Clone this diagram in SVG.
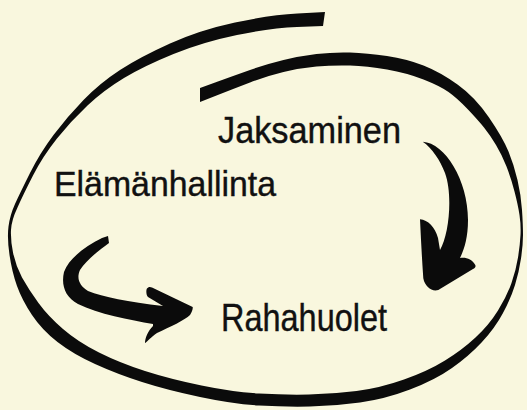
<svg xmlns="http://www.w3.org/2000/svg" width="527" height="410" viewBox="0 0 527 410">
<style>
.ink{fill:#0b0b0b;stroke:none}
.lbl{font-family:"Liberation Sans",Arial,sans-serif;fill:#111;stroke:#111;stroke-width:0.4}
</style>
<rect width="527" height="410" fill="#f9f7de"/>
<g id="loop">
<path class="ink" d="M200,88 L216.5,82 Q233,76 250,70 Q267,64 283.5,60 Q300,56 316.5,54 Q333,52 350,52.5 Q367,53 387,56 Q407,59 423.5,65.5 Q440,72 457.5,84.5 Q475,97 489,117.5 Q503,138 508.5,151.5 Q514,165 517.5,180 Q521,195 522,210 Q523,225 523,235 Q523,245 521,258.5 Q519,272 515,285 Q511,298 503,313 Q495,328 482,342 Q469,356 452,368 Q435,380 410,389.5 Q385,399 360,402.5 Q335,406 310,406.5 Q285,407 259,405.5 Q233,404 200,397 Q167,390 142,382 Q117,374 95,364 Q73,354 57.5,342 Q42,330 32,315 Q22,300 17,286 Q12,272 9.5,255 Q7,238 8.5,226.5 Q10,215 15,204 Q20,193 30,173 Q40,153 53.5,135 Q67,117 83.5,100 Q100,83 120,70 Q140,57 170,43.5 Q200,30 235,22.5 Q270,15 297.5,13.5 L325,12 L323,26 L297,27 Q271,28 237,35 Q203,42 173.5,54 Q144,66 124,78 Q104,90 87.5,105.5 Q71,121 57,138.5 Q43,156 33,175.5 Q23,195 17.5,207.5 Q11.5,220 11,230 Q10.5,240 13,252.5 Q15.5,265 22,277.5 Q29,290 38.5,303 Q48,316 63,329 Q78,342 99,352.5 Q120,363 145,371 Q170,379 201.5,385.5 Q233,392 259,393.5 Q285,395 309,394.5 Q333,394 356.5,391 Q380,388 404,379.5 Q428,371 445,360.5 Q462,350 475.5,337.5 Q489,325 498,310.5 Q507,296 511.5,283 Q516,270 518,257.5 Q520,245 520.5,235 Q521,225 519.5,215 Q518,205 514.5,191.5 Q511,178 506.5,166.5 Q502,155 496,145 Q490,135 484,127.5 Q478,120 467.5,109 Q457,98 448.5,92 Q440,86 423.5,79.5 Q407,73 387,69.5 Q367,66 350,65.5 Q333,65 316.5,66.5 Q300,68 283.5,72 Q267,76 250,82.5 Q233,89 216.5,95.5 L200,102 Z"/>
</g>
<g id="connectors">
<path id="arrow-jaksaminen-rahahuolet" class="ink" d="M422.7,141.7 C445,143 468,180 468,220 C468,238 464,250 460,258 C466,257 472,259 475.3,265 C476,267 475,268 473,269 L438.3,290 C432,292 425,287 423.3,278.3 C422,260 421,240 420,219.3 C428,220 435,227 438,238 L440,250 C449,235 453,195 445,173 C440,160 432,148 422.7,141.7 Z"/>
<path id="arrow-elamanhallinta-rahahuolet" class="ink" d="M102,238 L108,236 L109,243 C101,249 87,259 80,270 C76,279 80,286 88,291 C103,297 128,302 163,306 L148,297 C146,295 146,290 147,288.5 C148,287 150,286.5 152,287.5 L192.7,307 C193,309 192,312 190,315 C185,320 170,327 157,333 C151,337 148,341 145,343.3 C145,338 148,331 153,326 L153,324 C130,320 98,314 78,304 C65,297 61,285 64,272 C69,258 86,246 102,238 Z"/>
</g>
<g id="node-jaksaminen">
<text class="lbl" x="218" y="142.5" font-size="36" textLength="183" lengthAdjust="spacingAndGlyphs">Jaksaminen</text>
</g>
<g id="node-elamanhallinta">
<text class="lbl" x="54" y="196" font-size="35" textLength="222" lengthAdjust="spacingAndGlyphs">Elämänhallinta</text>
</g>
<g id="node-rahahuolet">
<text class="lbl" x="221" y="331" font-size="39" textLength="166" lengthAdjust="spacingAndGlyphs">Rahahuolet</text>
</g>
</svg>
